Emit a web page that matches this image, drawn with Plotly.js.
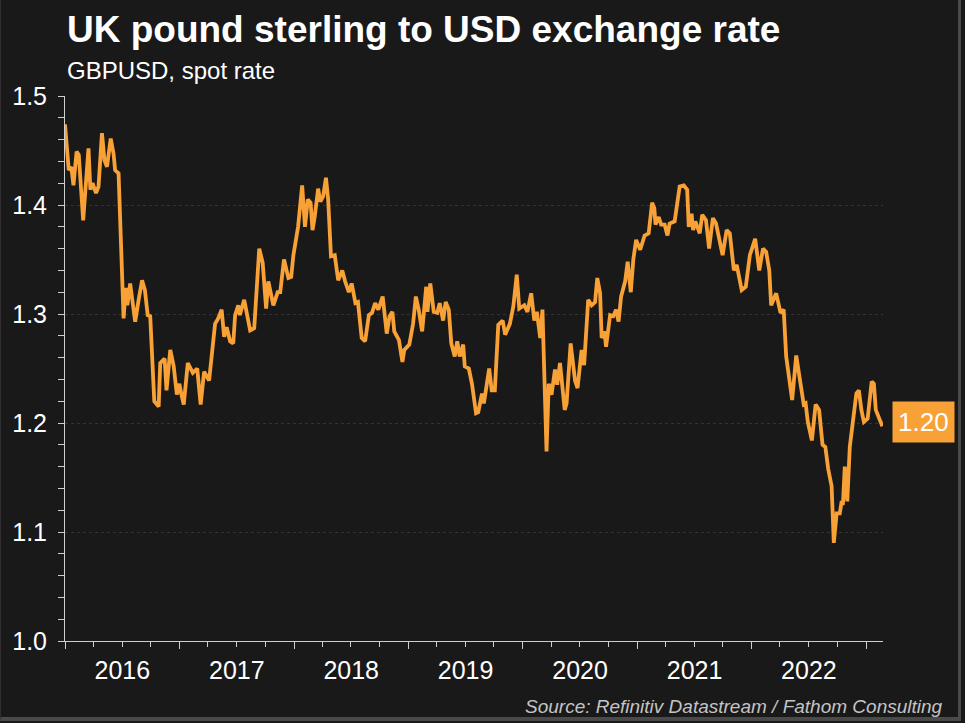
<!DOCTYPE html>
<html>
<head>
<meta charset="utf-8">
<script src="https://cdn.plot.ly/plotly-3.0.1.min.js"></script>
<style>
  html, body { margin: 0; padding: 0; background: #191919; }
  #wrap { position: relative; width: 965px; height: 723px; overflow: hidden; }
  #chart { width: 965px; height: 723px; }
  #frame { position: absolute; left: 0; top: 0; width: 957px; height: 717px;
           border-right: 3px solid #4a4a4a; border-bottom: 4px solid #4a4a4a;
           border-left: 1px solid #2e2e2e; pointer-events: none; }
</style>
</head>
<body>
<div id="wrap"><div id="chart"></div><div id="frame"></div></div>
<script>
const titleText = "UK pound sterling to USD exchange rate";
const subtitleText = "GBPUSD, spot rate";
const sourceText = "Source: Refinitiv Datastream / Fathom Consulting";

const dates = [
"2016-01-01","2016-01-13","2016-01-21","2016-01-28","2016-02-07","2016-02-14","2016-02-28","2016-03-16","2016-03-22","2016-03-29",
"2016-04-09","2016-04-17","2016-04-28","2016-05-06","2016-05-14","2016-05-26","2016-06-04","2016-06-09","2016-06-20","2016-06-27",
"2016-07-06","2016-07-13","2016-07-18","2016-07-27","2016-08-04","2016-08-12","2016-08-23","2016-09-03","2016-09-12","2016-09-21",
"2016-09-29","2016-10-12","2016-10-26","2016-10-31","2016-11-14","2016-11-20","2016-12-02","2016-12-13","2016-12-23","2016-12-31",
"2017-01-06","2017-01-14","2017-01-27","2017-02-12","2017-02-26","2017-03-09","2017-03-20","2017-04-05","2017-04-24","2017-05-04",
"2017-05-15","2017-05-23","2017-05-31","2017-06-11","2017-06-21","2017-06-27","2017-07-07","2017-07-12","2017-07-26","2017-08-14",
"2017-08-27","2017-09-12","2017-09-23","2017-10-04","2017-10-11","2017-10-27","2017-11-10","2017-11-18","2017-11-30","2017-12-14",
"2017-12-23","2017-12-30","2018-01-14","2018-01-27","2018-02-05","2018-02-14","2018-02-23","2018-03-01","2018-03-08","2018-03-19",
"2018-03-26","2018-04-04","2018-04-13","2018-04-20","2018-04-29","2018-05-11","2018-05-22","2018-06-04","2018-06-13","2018-06-25",
"2018-07-04","2018-07-16","2018-07-24","2018-08-05","2018-08-16","2018-08-28","2018-09-07","2018-09-17","2018-09-27","2018-10-11",
"2018-10-24","2018-11-02","2018-11-11","2018-11-17","2018-12-02","2018-12-13","2018-12-19","2019-01-04","2019-01-16","2019-01-25",
"2019-02-03","2019-02-14","2019-02-27","2019-03-03","2019-03-12","2019-03-23","2019-04-03","2019-04-11","2019-04-22","2019-04-30",
"2019-05-10","2019-05-18","2019-05-29","2019-06-06","2019-06-14","2019-06-25","2019-06-30","2019-07-13","2019-07-23","2019-08-05",
"2019-08-12","2019-08-24","2019-08-30","2019-09-16","2019-09-24","2019-10-04","2019-10-15","2019-10-29","2019-11-06","2019-11-21",
"2019-12-02","2019-12-13","2019-12-21","2020-01-06","2020-01-16","2020-01-28","2020-02-07","2020-02-15","2020-02-26","2020-03-04",
"2020-03-17","2020-03-24","2020-04-02","2020-04-13","2020-04-20","2020-04-29","2020-05-14","2020-05-20","2020-06-02","2020-06-16",
"2020-06-24","2020-07-07","2020-07-15","2020-07-28","2020-08-08","2020-08-19","2020-08-26","2020-09-04","2020-09-09","2020-09-18",
"2020-09-23","2020-10-06","2020-10-16","2020-10-25","2020-11-02","2020-11-10","2020-11-23","2020-12-01","2020-12-11","2020-12-19",
"2020-12-28","2021-01-10","2021-01-24","2021-02-06","2021-02-17","2021-02-24","2021-02-28","2021-03-10","2021-03-18","2021-03-29",
"2021-04-07","2021-04-14","2021-04-30","2021-05-16","2021-05-29","2021-06-09","2021-06-14","2021-06-23","2021-06-28","2021-07-05",
"2021-07-19","2021-07-27","2021-08-08","2021-08-18","2021-08-30","2021-09-09","2021-09-30","2021-10-13","2021-10-23","2021-11-05",
"2021-11-14","2021-11-30","2021-12-13","2021-12-26","2022-01-12","2022-01-25","2022-02-06","2022-02-16","2022-02-26","2022-03-04",
"2022-03-20","2022-04-03","2022-04-13","2022-04-21","2022-05-10","2022-05-23","2022-06-09","2022-06-16","2022-06-22","2022-06-29",
"2022-07-12","2022-07-24","2022-08-04","2022-08-15","2022-08-24","2022-09-02","2022-09-13","2022-09-20","2022-09-29","2022-10-09",
"2022-10-14","2022-10-19","2022-10-25","2022-11-02","2022-11-10","2022-11-21","2022-12-01","2022-12-09","2022-12-17","2022-12-25",
"2023-01-06","2023-01-19","2023-01-26","2023-02-01","2023-02-09","2023-02-22"
];

const gbpusd = [
1.474,1.432,1.435,1.418,1.449,1.446,1.386,1.452,1.414,1.420,
1.411,1.417,1.466,1.441,1.435,1.461,1.447,1.432,1.429,1.362,
1.296,1.324,1.308,1.328,1.310,1.293,1.313,1.331,1.322,1.299,
1.298,1.220,1.215,1.255,1.259,1.230,1.267,1.252,1.226,1.236,
1.227,1.217,1.255,1.246,1.250,1.217,1.247,1.239,1.291,1.296,
1.304,1.279,1.288,1.275,1.273,1.299,1.308,1.299,1.313,1.285,
1.287,1.360,1.347,1.305,1.330,1.308,1.320,1.320,1.350,1.333,
1.334,1.354,1.380,1.418,1.380,1.405,1.402,1.377,1.389,1.415,
1.403,1.408,1.425,1.405,1.353,1.354,1.331,1.340,1.330,1.320,
1.328,1.310,1.311,1.278,1.275,1.299,1.301,1.310,1.304,1.316,
1.282,1.298,1.302,1.284,1.276,1.256,1.267,1.272,1.291,1.316,
1.304,1.284,1.325,1.302,1.328,1.302,1.301,1.310,1.294,1.311,
1.304,1.273,1.261,1.275,1.261,1.272,1.252,1.250,1.236,1.209,
1.210,1.227,1.218,1.250,1.230,1.230,1.290,1.294,1.281,1.291,
1.307,1.336,1.305,1.308,1.302,1.319,1.294,1.302,1.278,1.304,
1.174,1.236,1.226,1.249,1.235,1.255,1.212,1.218,1.273,1.239,
1.232,1.267,1.253,1.313,1.308,1.311,1.333,1.319,1.278,1.284,
1.270,1.299,1.298,1.304,1.293,1.316,1.330,1.348,1.320,1.350,
1.368,1.359,1.372,1.374,1.402,1.397,1.382,1.389,1.382,1.382,
1.372,1.383,1.385,1.417,1.418,1.414,1.380,1.392,1.377,1.385,
1.374,1.391,1.386,1.360,1.388,1.383,1.354,1.377,1.374,1.340,
1.345,1.322,1.325,1.354,1.369,1.340,1.360,1.357,1.340,1.308,
1.319,1.301,1.304,1.261,1.221,1.262,1.230,1.217,1.218,1.201,
1.184,1.217,1.212,1.180,1.178,1.158,1.142,1.090,1.117,1.117,
1.126,1.125,1.160,1.128,1.178,1.206,1.227,1.230,1.212,1.201,
1.204,1.238,1.236,1.212,1.206,1.197
];

const yTickVals = [1.0, 1.1, 1.2, 1.3, 1.4, 1.5];

const lineColor = "#f8a136";
const textColor = "#ffffff";
const axisColor = "#cfcfcf";
const fontFamily = "'Liberation Sans', Arial, sans-serif";

const lastDate = dates[dates.length - 1];
const lastVal = gbpusd[gbpusd.length - 1];
const lastLabel = (Math.round(lastVal * 100) / 100).toFixed(2);

const trace = {
  type: "scatter",
  mode: "lines",
  x: dates,
  y: gbpusd,
  line: { color: lineColor, width: 3.8 },
  hoverinfo: "skip",
  cliponaxis: false
};

const layout = {
  width: 965,
  height: 723,
  paper_bgcolor: "#191919",
  plot_bgcolor: "#191919",
  margin: { l: 65, r: 82, t: 96, b: 82 },
  showlegend: false,
  font: { family: fontFamily, color: textColor },
  xaxis: {
    type: "date",
    range: ["2016-01-01", "2023-02-24"],
    tick0: "2016-01-01",
    dtick: "M12",
    tickformat: "%Y",
    ticklabelmode: "period",
    ticks: "outside",
    ticklen: 7,
    tickwidth: 1,
    tickcolor: axisColor,
    showline: true,
    linecolor: axisColor,
    linewidth: 1,
    showgrid: false,
    zeroline: false,
    tickfont: { size: 25, color: textColor, family: fontFamily },
    ticklabelstandoff: 0,
    minor: { dtick: "M3", ticks: "outside", ticklen: 5, tickcolor: axisColor, showgrid: false }
  },
  yaxis: {
    range: [1.0, 1.5],
    tickvals: yTickVals,
    tickformat: ".1f",
    ticks: "outside",
    ticklen: 6,
    tickwidth: 1,
    tickcolor: axisColor,
    showline: true,
    linecolor: axisColor,
    linewidth: 1,
    showgrid: true,
    gridcolor: "#333333",
    griddash: "dot",
    gridwidth: 1,
    zeroline: false,
    tickfont: { size: 25, color: textColor, family: fontFamily },
    ticklabelstandoff: 6,
    minor: { dtick: 0.02, ticks: "outside", ticklen: 6, tickcolor: axisColor, showgrid: false }
  },
  annotations: [
    {
      text: "<b>" + titleText + "</b>",
      xref: "paper", yref: "paper", x: 0, y: 1.164,
      xanchor: "left", yanchor: "top", showarrow: false,
      font: { size: 37, color: textColor, family: fontFamily }
    },
    {
      text: subtitleText,
      xref: "paper", yref: "paper", x: 0, y: 1.075,
      xanchor: "left", yanchor: "top", showarrow: false,
      font: { size: 24, color: textColor, family: fontFamily }
    },
    {
      text: "<i>" + sourceText + "</i>",
      xref: "paper", yref: "paper", x: 1.0755, y: -0.097,
      xanchor: "right", yanchor: "top", showarrow: false,
      font: { size: 19, color: "#c4c4c4", family: fontFamily }
    },
    {
      text: lastLabel,
      xref: "x", yref: "y", x: lastDate, y: lastVal,
      xanchor: "left", yanchor: "middle", xshift: 10, yshift: 4,
      showarrow: false,
      bgcolor: lineColor,
      borderpad: 5,
      font: { size: 26, color: textColor, family: fontFamily }
    }
  ]
};

Plotly.newPlot("chart", [trace], layout, { staticPlot: true, displayModeBar: false });
</script>
</body>
</html>
